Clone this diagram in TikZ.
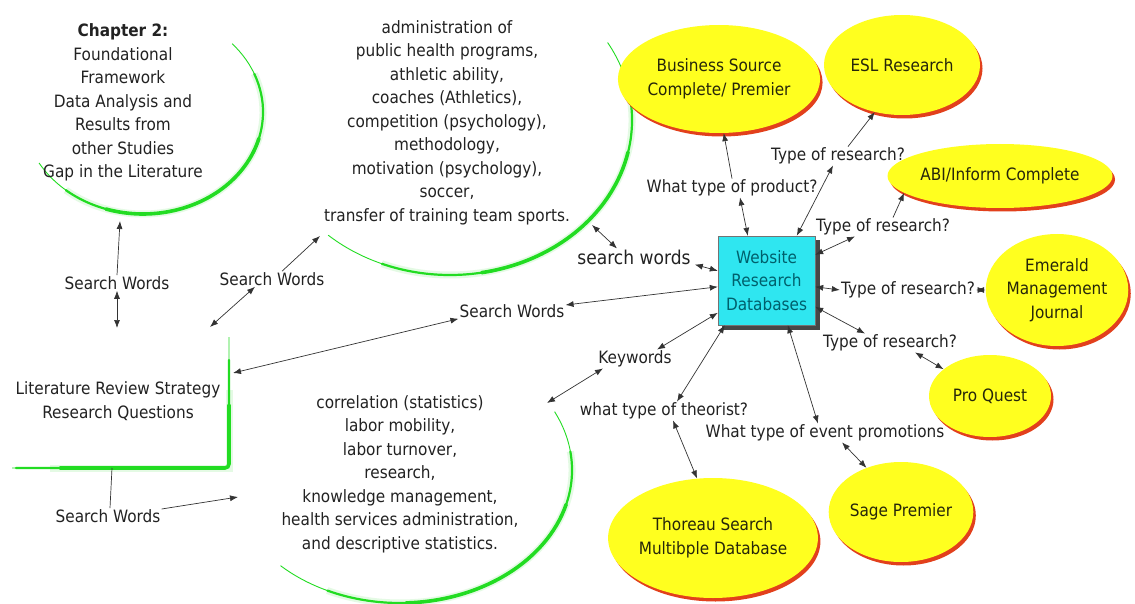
\documentclass[tikz,border=0pt]{standalone}
\usepackage{fontspec}
\setmainfont{DejaVu Sans}[FakeStretch=0.9]
\usetikzlibrary{arrows.meta,shapes.geometric,shadows}
\definecolor{gline}{HTML}{22DC22}
\definecolor{ylw}{HTML}{FFFF1F}
\definecolor{rsh}{HTML}{E2401C}
\definecolor{cyn}{HTML}{2FE6F0}
\definecolor{btxt}{HTML}{00606C}
\definecolor{txt}{HTML}{222222}
\definecolor{etxt}{HTML}{26260A}
\definecolor{lnc}{HTML}{333333}
\newcommand\gArc[9]{%
  \draw[gline!40, line width=7pt, opacity=0.3] ([shift={(#6:#2 and #3)}]#1) arc[start angle=#6,end angle=#7,x radius=#2,y radius=#3];
  \draw[gline, line width=0.9pt] ([shift={(#4:#2 and #3)}]#1) arc[start angle=#4,end angle=#5,x radius=#2,y radius=#3];
  \draw[gline, line width=2.2pt, line cap=round] ([shift={(#6:#2 and #3)}]#1) arc[start angle=#6,end angle=#7,x radius=#2,y radius=#3];
  \draw[gline, line width=3.6pt, line cap=round] ([shift={(#8:#2 and #3)}]#1) arc[start angle=#8,end angle=#9,x radius=#2,y radius=#3];
}
\tikzset{
  lbl/.style={font=\fontsize{17}{23.5}\selectfont, text=txt, inner sep=1pt, align=center},
  con/.style={draw=lnc, line width=0.7pt},
  one/.style={con, -{Latex[length=8pt,width=6pt]}},
  two/.style={con, {Latex[length=8pt,width=6pt]}-{Latex[length=8pt,width=6pt]}},
  dbell/.style={ellipse, fill=ylw, inner sep=0pt, text=etxt, font=\fontsize{17}{23.5}\selectfont, align=center,
    drop shadow={shadow xshift=2.5pt, shadow yshift=-3.5pt, fill=rsh, opacity=1}},
}
\begin{document}
\begin{tikzpicture}[x=1pt,y=-1pt]
\useasboundingbox[fill=white] (0,0) rectangle (1135,604);

% green arcs
\gArc{143,112}{120}{102}{-42}{150}{-22}{130}{15}{108}
\gArc{450,120}{182}{155}{-30}{132}{-10}{112}{12}{80}
\gArc{400,470}{172}{133}{-26}{134}{-8}{115}{15}{88}
% L shape of literature review
\draw[gline!40, line width=7pt, opacity=.3] (229,390) -- (229,468) -- (50,468);
\draw[gline, line width=.9pt, rounded corners=4pt] (229,337) -- (229,468) -- (12,468);
\draw[gline, line width=2.2pt, rounded corners=4pt, line cap=round] (229,360) -- (229,468) -- (16,468);
\draw[gline, line width=3.6pt, rounded corners=4pt, line cap=round] (229,405) -- (229,468) -- (60,468);

% text of the open shapes
\node[lbl] (chap) at (123,102.5) {\textbf{Chapter 2:}\\Foundational\\Framework\\Data Analysis and\\Results from\\other Studies\\Gap in the Literature};
\node[lbl] (admin) at (447,122.5) {administration of\\public health programs,\\athletic ability,\\coaches (Athletics),\\competition (psychology),\\methodology,\\motivation (psychology),\\soccer,\\transfer of training team sports.};
\node[lbl] (corr) at (400,474) {correlation (statistics)\\labor mobility,\\labor turnover,\\research,\\knowledge management,\\health services administration,\\and descriptive statistics.};
\node[lbl] (lit) at (118,401) {Literature Review Strategy\\Research Questions};

% points on the open shapes
\coordinate (chB) at (120,221);
\coordinate (litT) at (117,328);
\coordinate (litNE) at (210,327);
\coordinate (litR) at (233,373);
\coordinate (litB) at (112,468);
\coordinate (admL) at (320,236);
\coordinate (admR) at (592,225);
\coordinate (corrT) at (547,403);
\coordinate (corrL) at (238,497);

% central box
\fill[black!72] (722,240) rectangle (820,330);
\node[draw=black!55, fill=cyn, minimum width=97pt, minimum height=89pt, inner sep=0pt, text=btxt,
  font=\fontsize{17}{23.5}\selectfont, align=center] (db) at (766.5,280.5) {Website\\Research\\Databases};

% databases
\node[dbell, minimum width=176pt, minimum height=108pt] (bus) at (719,79) {Business Source\\Complete/ Premier};
\node[dbell, minimum width=156pt, minimum height=100pt] (esl) at (902,65) {ESL Research};
\node[dbell, minimum width=182pt, minimum height=64pt] (abi) at (1000,176) {ABI/Inform Complete};
\node[dbell, minimum width=126pt, minimum height=112pt] (emer) at (1057,290) {Emerald\\Management\\Journal};
\node[dbell, minimum width=122pt, minimum height=82pt] (pro) at (990,396) {Pro Quest};
\node[dbell, minimum width=134pt, minimum height=100pt] (sage) at (901,512) {Sage Premier};
\node[dbell, minimum width=176pt, minimum height=120pt] (thor) at (713,538) {Thoreau Search\\Multibple Database};

% linking phrases
\node[lbl] (sw1) at (117,283) {Search Words};
\node[lbl] (sw2) at (272,279) {Search Words};
\node[lbl] (sw3) at (512,311) {Search Words};
\node[lbl, font=\fontsize{19}{23.5}\selectfont] (sw4) at (634,257) {search words};
\node[lbl] (sw5) at (108,516) {Search Words};
\node[lbl] (prod) at (732,188) {What type of product?};
\node[lbl] (tr1) at (838,156) {Type of research?};
\node[lbl] (tr2) at (883,227) {Type of research?};
\node[lbl] (tr3) at (908,290) {Type of research?};
\node[lbl] (tr4) at (890,343) {Type of research?};
\node[lbl] (kw) at (635,359) {Keywords};
\node[lbl] (theo) at (664,411) {what type of theorist?};
\node[lbl] (event) at (825,433) {What type of event promotions};

% connectors
\draw[one] (sw1.north) -- (chB);
\draw[two] (sw1.south) -- (litT);
\draw[two] ([xshift=-17pt]sw2.south) -- (litNE);
\draw[one] ([xshift=10pt]sw2.north) -- (admL);
\draw[two] (litR) -- (sw3.south west);
\draw[two] ([yshift=6pt]sw3.east) -- ([yshift=-51pt]db.north west);
\draw[two] (admR) -- ([xshift=-17pt]sw4.north);
\draw[two] ([xshift=3pt,yshift=1pt]sw4.south east) -- ([yshift=-35pt]db.north west);
\draw[one] (prod.north) -- (bus.-85);
\draw[two] ([xshift=8pt]prod.south) -- ([xshift=30pt]db.north west);
\draw[two] ([xshift=79pt]db.north west) -- ([xshift=-5pt]tr1.south);
\draw[one] ([xshift=10pt]tr1.north) -- (esl.-120);
\draw[two] ([yshift=-19pt]db.north east) -- ([xshift=-28pt]tr2.south);
\draw[one] ([xshift=10pt]tr2.north) -- (abi.-170);
\draw[two] ([yshift=-51pt]db.north east) -- (tr3.west);
\draw[two] (tr3.east) -- (emer.west);
\draw[two] ([yshift=-71pt]db.north east) -- ([xshift=-25pt]tr4.north);
\draw[two] ([xshift=25pt]tr4.south) -- (pro.150);
\draw[two] ([yshift=-77pt]db.north west) -- ([xshift=22pt]kw.north);
\draw[two] ([xshift=-32pt]kw.south) -- (corrT);
\draw[two] ([xshift=7pt]db.south west) -- ([xshift=13pt]theo.north);
\draw[two] ([xshift=9pt]theo.south) -- (thor.105);
\draw[two] ([xshift=70pt]db.south west) -- ([xshift=-7pt]event.north);
\draw[two] ([xshift=17pt]event.south) -- (sage.128);
\draw[con] (litB) -- ([xshift=2pt]sw5.north);
\draw[one] ([yshift=7pt]sw5.east) -- (corrL);
\end{tikzpicture}
\end{document}
